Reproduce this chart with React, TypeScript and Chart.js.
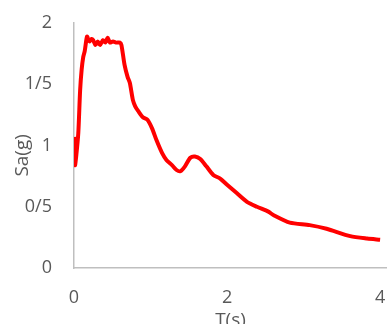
import React, { useEffect, useRef } from "react";
import { Chart, registerables } from "chart.js";

Chart.register(...registerables);

const periods = [
  0, 0.013, 0.03, 0.056, 0.08, 0.1, 0.12, 0.14, 0.17, 0.19,
  0.205, 0.23, 0.25, 0.28, 0.31, 0.34, 0.38, 0.41, 0.44, 0.47,
  0.51, 0.55, 0.6, 0.62, 0.66, 0.7, 0.73, 0.77, 0.8, 0.84,
  0.9, 0.96, 1.02, 1.08, 1.15, 1.21, 1.28, 1.34, 1.39, 1.45,
  1.52, 1.58, 1.65, 1.73, 1.82, 1.91, 2.0, 2.13, 2.26, 2.39,
  2.54, 2.61, 2.82, 3.08, 3.3, 3.61, 3.83, 4.0,
];

const saValues = [
  1.07, 0.84, 0.92, 1.1, 1.45, 1.62, 1.72, 1.77, 1.89, 1.86,
  1.85, 1.87, 1.86, 1.82, 1.85, 1.82, 1.86, 1.84, 1.88, 1.84,
  1.85, 1.84, 1.84, 1.82, 1.66, 1.56, 1.51, 1.37, 1.32, 1.28,
  1.23, 1.21, 1.14, 1.04, 0.94, 0.88, 0.84, 0.8, 0.79, 0.83,
  0.9, 0.91, 0.89, 0.83, 0.76, 0.73, 0.68, 0.61, 0.54, 0.5,
  0.46, 0.43, 0.37, 0.35, 0.32, 0.26, 0.24, 0.23,
];

const xTicks = [0, 2, 4];
const yTicks = [0, 0.5, 1, 1.5, 2];
const yTickLabels = ["0", "0/5", "1", "1/5", "2"];
const xTitle = "T(s)";
const yTitle = "Sa(g)";

export default function App() {
  const canvasRef = useRef<HTMLCanvasElement | null>(null);

  useEffect(() => {
    if (!canvasRef.current) return;
    const textColor = "#595959";
    const axisColor = "#BFBFBF";
    const fam = "'Open Sans', sans-serif";
    const chart = new Chart(canvasRef.current, {
      type: "line",
      data: {
        datasets: [
          {
            data: periods.map((t, i) => ({ x: t, y: saValues[i] })),
            borderColor: "#FF0000",
            backgroundColor: "#FF0000",
            borderWidth: 4,
            pointRadius: 0,
            tension: 0.25,
            fill: false,
          },
        ],
      },
      options: {
        animation: false,
        responsive: true,
        maintainAspectRatio: false,
        layout: { padding: { top: 23, right: 0, bottom: 0, left: 0 } },
        plugins: {
          legend: { display: false },
          tooltip: { enabled: false },
        },
        scales: {
          x: {
            type: "linear",
            min: 0,
            max: 4.09,
            afterBuildTicks: (s: any) => {
              s.ticks = xTicks.map((v) => ({ value: v }));
            },
            afterFit: (s: any) => {
              s.height = 56;
              s.paddingLeft = 0;
              s.paddingRight = 0;
            },
            grid: { display: false, drawTicks: false },
            border: { display: true, color: axisColor, width: 1.5 },
            ticks: {
              color: textColor,
              font: { family: fam, size: 18 },
              padding: 19,
              maxRotation: 0,
              callback: (v: any) => String(v),
            },
            title: {
              display: true,
              text: xTitle,
              color: textColor,
              font: { family: fam, size: 19 },
              padding: { top: 0, bottom: -8 },
            },
          },
          y: {
            min: 0,
            max: 2,
            afterBuildTicks: (s: any) => {
              s.ticks = yTicks.map((v) => ({ value: v }));
            },
            afterFit: (s: any) => {
              s.width = 74;
              s.paddingTop = 0;
              s.paddingBottom = 0;
            },
            grid: { display: false, drawTicks: false },
            border: { display: true, color: axisColor, width: 1.5 },
            ticks: {
              color: textColor,
              font: { family: fam, size: 18 },
              padding: 22,
              callback: (v: any) => {
                const i = yTicks.indexOf(Number(v));
                return i >= 0 ? yTickLabels[i] : "";
              },
            },
            title: {
              display: true,
              text: yTitle + "\u00A0\u00A0\u00A0\u00A0",
              color: textColor,
              font: { family: fam, size: 19 },
              padding: { top: 11, bottom: 0 },
            },
          },
        },
      },
    });
    return () => chart.destroy();
  }, []);

  return (
    <div style={{ position: "absolute", left: 0, top: 0, width: 387, height: 324 }}>
      <canvas ref={canvasRef} />
    </div>
  );
}
